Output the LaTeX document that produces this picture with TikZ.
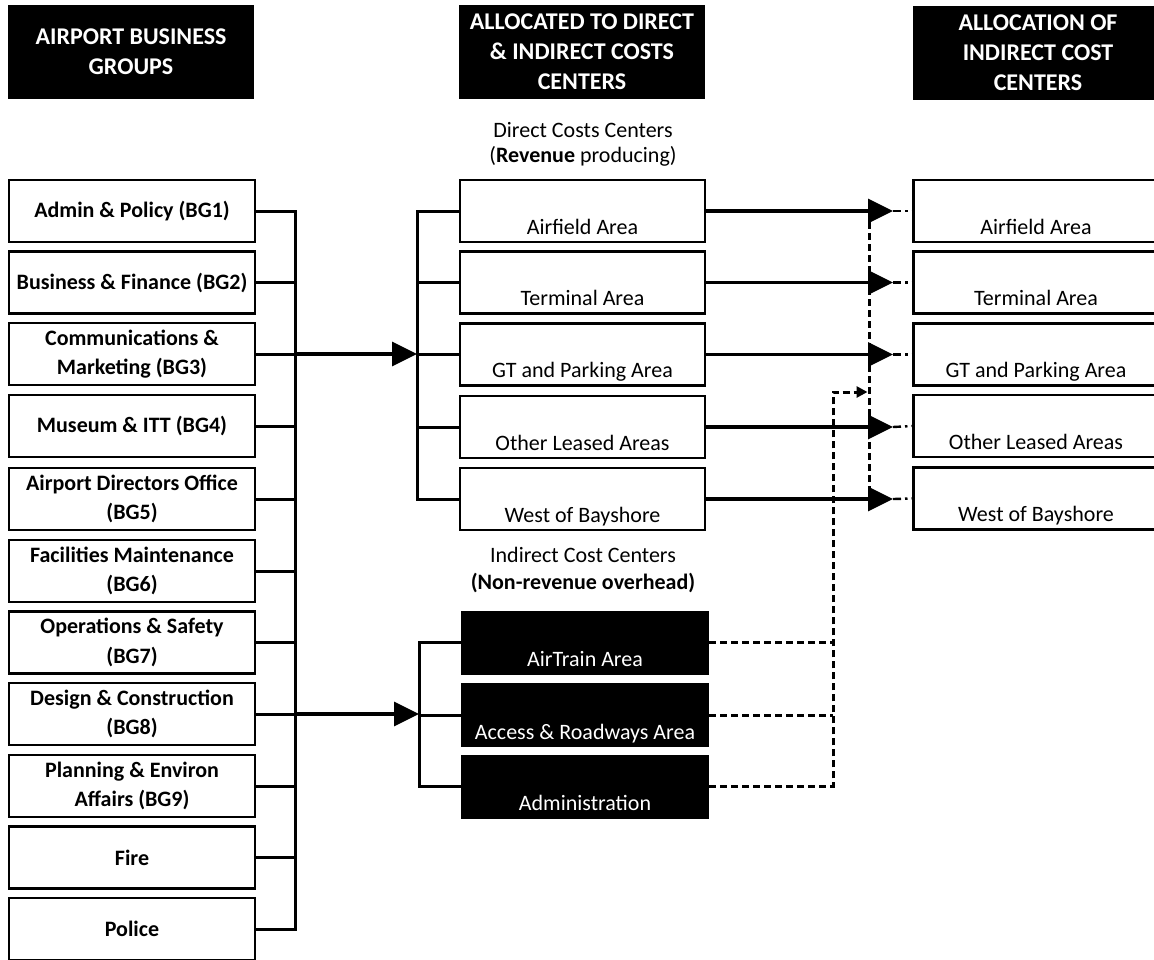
\documentclass[tikz,border=0pt]{standalone}
\usepackage{fontspec}
\setmainfont{Carlito}
\usetikzlibrary{arrows.meta}
\begin{document}
\begin{tikzpicture}[x=1pt,y=-1pt,
  every node/.style={font=\fontsize{22}{29}\selectfont},
  hdr/.style={fill=black, text=white, font=\fontsize{24}{30}\selectfont\bfseries, align=center, minimum width=246pt, minimum height=94pt, inner sep=0pt},
  bgbox/.style={draw, line width=2.6pt, minimum width=246pt, minimum height=62pt, align=center, font=\fontsize{22}{29.5}\selectfont\bfseries, inner sep=0pt},
  ccbox/.style={draw, line width=2.6pt, minimum width=245pt, inner xsep=0pt, inner ysep=3pt, text height=51pt, text depth=5pt},
  icbox/.style={fill=black, text=white, minimum width=248pt, inner xsep=0pt, inner ysep=3pt, text height=53pt, text depth=5pt},
  lbl/.style={font=\fontsize{22}{29}\selectfont, inner sep=0pt},
  conn/.style={line width=3pt},
  arr/.style={line width=3.5pt, -{Triangle[length=25pt,width=24pt]}},
  dsh/.style={line width=3pt, dash pattern=on 7pt off 4pt},
  dd/.style={line width=2.4pt, dash pattern=on 8pt off 4pt on 2.5pt off 4pt}
]
\useasboundingbox (0,0) rectangle (1154,959);
\clip (0,0) rectangle (1154,959);

% headers
\node[hdr] (h1) at (131,52) {AIRPORT BUSINESS\\GROUPS};
\node[hdr] (h2) at (582,52) {ALLOCATED TO DIRECT\\\& INDIRECT COSTS\\CENTERS};
\node[hdr, minimum width=250pt] (h3) at (1038,52.5) {ALLOCATION OF\\INDIRECT COST\\CENTERS};

% business groups
\node[bgbox] (b1) at (132,211) {Admin \& Policy (BG1)};
\node[bgbox] (b2) at (132,282.5) {Business \& Finance (BG2)};
\node[bgbox] (b3) at (132,354) {Communications \&\\Marketing (BG3)};
\node[bgbox] (b4) at (132,426) {Museum \& ITT (BG4)};
\node[bgbox] (b5) at (132,499) {Airport Directors Office\\(BG5)};
\node[bgbox] (b6) at (132,571) {Facilities Maintenance\\(BG6)};
\node[bgbox] (b7) at (132,642.5) {Operations \& Safety\\(BG7)};
\node[bgbox] (b8) at (132,714) {Design \& Construction\\(BG8)};
\node[bgbox] (b9) at (132,786) {Planning \& Environ\\Affairs (BG9)};
\node[bgbox] (b10) at (132,857.5) {Fire};
\node[bgbox] (b11) at (132,929) {Police};

% labels
\node[lbl] (dl1) at (583,130) {Direct Costs Centers};
\node[lbl] (dl2) at (583,156) {(\textbf{Revenue} producing)};
\node[lbl] (il1) at (583,555) {Indirect Cost Centers};
\node[lbl] (il2) at (583,583) {\textbf{(Non-revenue overhead)}};

% direct cost centers
\node[ccbox] (d1) at (582.5,211) {Airfield Area};
\node[ccbox] (d2) at (582.5,282.5) {Terminal Area};
\node[ccbox] (d3) at (582.5,354.5) {GT and Parking Area};
\node[ccbox] (d4) at (582.5,427) {Other Leased Areas};
\node[ccbox] (d5) at (582.5,499) {West of Bayshore};

% indirect cost centers
\node[icbox] (i1) at (585,642.5) {AirTrain Area};
\node[icbox] (i2) at (585,715) {Access \& Roadways Area};
\node[icbox] (i3) at (585,786.5) {Administration};

% allocation targets
\node[ccbox] (r1) at (1036,211) {Airfield Area};
\node[ccbox] (r2) at (1036,282.5) {Terminal Area};
\node[ccbox] (r3) at (1036,354.5) {GT and Parking Area};
\node[ccbox] (r4) at (1036,426) {Other Leased Areas};
\node[ccbox] (r5) at (1036,498.5) {West of Bayshore};

% helper coordinates
\coordinate (busL) at (295,0);
\coordinate (brD) at (417,0);
\coordinate (brI) at (419,0);
\coordinate (tip) at (893,0);
\coordinate (jx) at (869,0);
\coordinate (feed) at (833,392);

% left bus
\draw[conn] (b1.east) -- (b1.east -| busL) -- (b11.east -| busL) -- (b11.east);
\foreach \n in {b2,b3,b4,b5,b6,b7,b8,b9,b10}
  \draw[conn] (\n.east) -- (\n.east -| busL);

% arrows to brackets
\draw[arr] (b3.east -| busL) -- (b3.east -| brD);
\draw[arr] (b8.east -| busL) -- (b8.east -| brI);

% direct bracket
\draw[conn] (d1.west) -- (d1.west -| brD) -- (d5.west -| brD) -- (d5.west);
\foreach \n in {d2,d3,d4}
  \draw[conn] (\n.west) -- (\n.west -| brD);

% indirect bracket
\draw[conn] (i1.west) -- (i1.west -| brI) -- (i3.west -| brI) -- (i3.west);
\draw[conn] (i2.west) -- (i2.west -| brI);

% direct to allocation
\foreach \s/\t in {d1/r1,d2/r2,d3/r3,d4/r4,d5/r5}{
  \draw[arr] (\s.east) -- (\s.east -| tip);
  \draw[dd] (\s.east -| tip) -- (\t.west);
}
\draw[dsh] (d1.east -| jx) -- (d5.east -| jx);

% indirect feed
\draw[dsh] (i1.east) -- (i1.east -| feed);
\draw[dsh] (i2.east) -- (i2.east -| feed);
\draw[dsh, -{Triangle[length=11pt,width=11pt]}, shorten >=1.5pt] (i3.east) -- (i3.east -| feed) -- (feed) -- (feed -| jx);
\end{tikzpicture}
\end{document}
